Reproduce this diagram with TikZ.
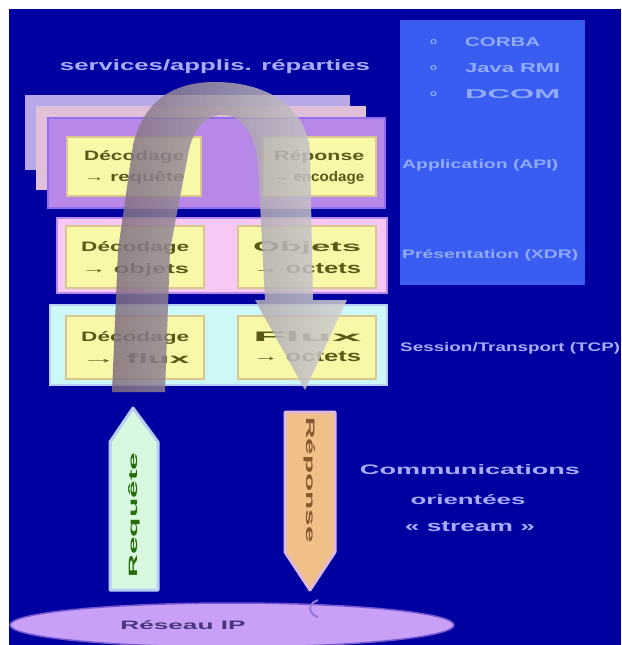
\documentclass[tikz,border=0pt]{standalone}
\usepackage{fontspec}
\setmainfont{Liberation Sans}
\usetikzlibrary{shapes.geometric}
\definecolor{bg}{HTML}{0000A0}
\definecolor{rbox}{HTML}{3A5CF0}
\definecolor{ltxt}{HTML}{A8ACFF}
\definecolor{rtxt}{HTML}{90ACFF}
\definecolor{layA}{HTML}{B8A8E8}
\definecolor{layB}{HTML}{E0C0D8}
\definecolor{layC}{HTML}{B888E8}
\definecolor{rowpink}{HTML}{F8C8F4}
\definecolor{rowcyan}{HTML}{CCF8F8}
\definecolor{yel}{HTML}{F8F8A8}
\definecolor{yelb}{HTML}{D8C890}
\definecolor{olive}{HTML}{5A5A18}
\definecolor{pgreen}{HTML}{D8F8E0}
\definecolor{pgreenb}{HTML}{B8D0F8}
\definecolor{porange}{HTML}{F0C088}
\definecolor{porangeb}{HTML}{E0B8D8}
\definecolor{lav}{HTML}{C8A0F8}
\definecolor{lavd}{HTML}{7858D0}
\newcommand{\fitt}[3]{\resizebox{#1}{#2}{\textbf{#3}}}
\tikzset{
  txt/.style={inner sep=0pt, text=ltxt},
  rtx/.style={inner sep=0pt, text=rtxt, anchor=west},
  layer/.style={line width=1.5pt},
  ybox/.style={fill=yel, draw=yelb, line width=2pt},
  btxt/.style={inner sep=0pt, text=olive, align=left},
}
\begin{document}
\begin{tikzpicture}[x=1pt,y=-1pt]
\useasboundingbox (0,0) rectangle (621,645);
\fill[white] (0,0) rectangle (621,645);
\fill[bg] (9,9) rectangle (621,645);

% right box
\fill[rbox] (400,20) rectangle (585,285);
\node[rtx] (d1) at (430,42) {\fitt{7pt}{5pt}{o}};
\node[rtx] (d2) at (430,68) {\fitt{7pt}{5pt}{o}};
\node[rtx] (d3) at (430,94) {\fitt{7pt}{5pt}{o}};
\node[rtx] (l1) at (465,42) {\fitt{75pt}{9pt}{CORBA}};
\node[rtx] (l2) at (465,68) {\fitt{95pt}{9pt}{Java RMI}};
\node[rtx] (l3) at (465,94) {\fitt{95pt}{9pt}{DCOM}};
\node[rtx] (app) at (402,165) {\fitt{156pt}{9pt}{Application (API)}};
\node[rtx] (pres) at (402,255) {\fitt{176pt}{9pt}{Présentation (XDR)}};
\node[txt, anchor=west] (sess) at (400,348) {\fitt{220pt}{9pt}{Session/Transport (TCP)}};

% title
\node[txt] (title) at (215,67) {\fitt{310pt}{11pt}{services/applis. réparties}};

% stack of layers
\fill[layA] (25,95) rectangle (350,170);
\fill[layB] (36,106) rectangle (366,190);
\filldraw[layC, draw=layC!80!blue, layer] (48,118) rectangle (385,208);
\filldraw[rowpink, draw=layC, layer] (57,218) rectangle (387,293);
\filldraw[rowcyan, draw=pgreenb, layer] (50,305) rectangle (387,385);

% yellow boxes
\node[ybox, minimum width=134pt, minimum height=59pt, anchor=north west] (a1) at (66,136) {};
\node[ybox, minimum width=113pt, minimum height=59pt, anchor=north west] (b1) at (262,136) {};
\node[ybox, minimum width=138pt, minimum height=62pt, anchor=north west] (a2) at (65,225) {};
\node[ybox, minimum width=138pt, minimum height=62pt, anchor=north west] (b2) at (237,225) {};
\node[ybox, minimum width=138pt, minimum height=63pt, anchor=north west] (a3) at (65,315) {};
\node[ybox, minimum width=138pt, minimum height=63pt, anchor=north west] (b3) at (237,315) {};

\node[btxt, anchor=north west] (ta1) at ([shift={(18,14)}]a1.north west) {\fitt{100pt}{10pt}{Décodage}\\[7pt]\fitt{100pt}{10pt}{→ requête}};
\node[btxt, anchor=north west] (tb1) at ([shift={(12,14)}]b1.north west) {\fitt{90pt}{10pt}{Réponse}\\[7pt]\fitt{90pt}{10pt}{→ encodage}};
\node[btxt, anchor=north west] (ta2) at ([shift={(16,16)}]a2.north west) {\fitt{108pt}{10pt}{Décodage}\\[8pt]\fitt{108pt}{10pt}{→ objets}};
\node[btxt, anchor=north west] (tb2) at ([shift={(16,16)}]b2.north west) {\fitt{108pt}{10pt}{Objets}\\[8pt]\fitt{108pt}{10pt}{→ octets}};
\node[btxt, anchor=north west] (ta3) at ([shift={(16,16)}]a3.north west) {\fitt{108pt}{10pt}{Décodage}\\[8pt]\fitt{108pt}{10pt}{→ flux}};
\node[btxt, anchor=north west] (tb3) at ([shift={(16,16)}]b3.north west) {\fitt{108pt}{10pt}{Flux}\\[8pt]\fitt{108pt}{10pt}{→ octets}};

% U-turn arrow
\shade[left color=gray!85!violet, right color=gray!35, opacity=0.85]
  (112,392) -- (118,250) -- (133,145)
  .. controls (145,95) and (180,82) .. (215,82)
  .. controls (265,82) and (305,105) .. (310,150)
  -- (313,300) -- (347,300) -- (305,390) -- (255,300) -- (265,300)
  -- (258,165)
  .. controls (255,130) and (240,115) .. (222,115)
  .. controls (205,115) and (192,130) .. (188,155)
  -- (170,250) -- (165,392) -- cycle;

% pencils
\filldraw[fill=pgreen, draw=pgreenb, line width=3pt, line join=round]
  (110,590) -- (110,442) -- (133,408) -- (158,442) -- (158,590) -- cycle;
\node[inner sep=0pt, text=olive!60!green!70!black, rotate=90] (req) at (134,515) {\fitt{125pt}{9pt}{Requête}};
\filldraw[fill=porange, draw=porangeb, line width=3pt, line join=round]
  (285,412) -- (335,412) -- (335,552) -- (310,590) -- (285,552) -- cycle;
\node[inner sep=0pt, text=brown!70!black, rotate=-90] (rep) at (310,480) {\fitt{125pt}{9pt}{Réponse}};

% communications text
\node[txt] (c1) at (470,470) {\fitt{220pt}{10pt}{Communications}};
\node[txt] (c2) at (468,500) {\fitt{115pt}{10pt}{orientées}};
\node[txt] (c3) at (470,527) {\fitt{130pt}{10pt}{« stream »}};

% bottom network
\begin{scope}
\clip (9,9) rectangle (621,645);
\filldraw[fill=lav, draw=lavd, line width=1.5pt] (232,625) ellipse [x radius=222, y radius=22];
\draw[lavd!80, line width=2pt] (318,617) arc[start angle=110, end angle=250, x radius=12, y radius=9];
\end{scope}
\node[inner sep=0pt, text=lavd!60!black] (ip) at (183,625) {\fitt{125pt}{9pt}{Réseau IP}};
\end{tikzpicture}
\end{document}
